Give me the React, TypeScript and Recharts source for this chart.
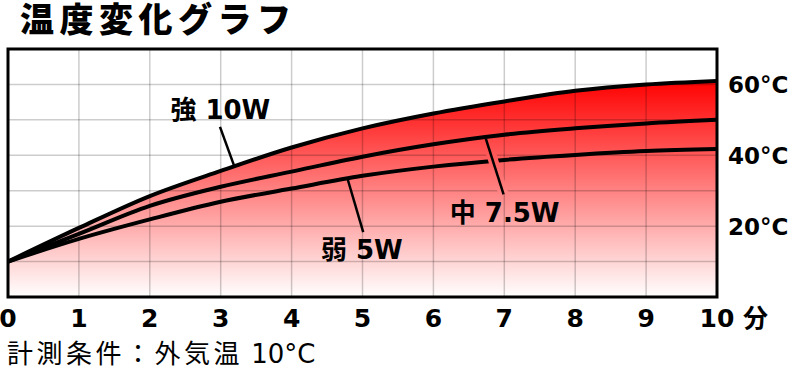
import React from 'react';
import { ComposedChart, Area, Line, XAxis, YAxis, ReferenceLine, ReferenceArea } from 'recharts';

const minutes = [0, 1, 2, 3, 4, 5, 6, 7, 8, 9, 10];
const strong10W = [10, 19.5, 28.5, 35.6, 42.2, 47.6, 51.8, 55.2, 58.2, 60.0, 61.0];
const medium75W = [10, 17.8, 25.7, 31.1, 35.4, 39.6, 43.1, 45.8, 47.6, 49.0, 50.0];
const weak5W = [10, 16.4, 21.9, 26.9, 30.6, 34.2, 36.8, 38.7, 40.1, 41.2, 41.8];
const yTicks = [20, 40, 60];
const gridX = [1, 2, 3, 4, 5, 6, 7, 8, 9];
const gridY = [10, 20, 30, 40, 50, 60];
const title = '温度変化グラフ';
const unitX = '分';

const data = minutes.map((m, i) => ({ m, strong: strong10W[i], medium: medium75W[i], weak: weak5W[i] }));

const FONT = '"DejaVu Sans", "Noto Sans CJK JP", sans-serif';
const CJK = '"Noto Sans CJK JP", sans-serif';

const XTick = (props: any) => {
  const { x, y, payload } = props;
  return (
    <g>
      <text x={x} y={y + 22} textAnchor="middle" fontFamily={FONT} fontWeight="bold" fontSize={25} fill="#000">
        {payload.value}
      </text>
      {payload.value === 10 ? (
        <text x={x + 26} y={y + 22} textAnchor="start" fontFamily={CJK} fontWeight="bold" fontSize={25} fill="#000">
          {unitX}
        </text>
      ) : null}
    </g>
  );
};

const YTick = (props: any) => {
  const { x, y, payload } = props;
  return (
    <text x={x + 3} y={y + 9} textAnchor="start" fontFamily={FONT} fontWeight="bold" fontSize={23} fill="#000">
      {`${payload.value}°C`}
    </text>
  );
};

const labelStyle = { fill: '#000', fontSize: 26, fontWeight: 'bold', fontFamily: FONT } as any;

export default function App() {
  return (
    <div style={{ position: 'absolute', left: 0, top: 0, width: 793, height: 378, background: '#fff', overflow: 'hidden' }}>
      <div style={{ position: 'absolute', left: 20, top: 0, fontFamily: CJK, fontWeight: 900, fontSize: 34, letterSpacing: 5.5, lineHeight: '36px', whiteSpace: 'nowrap' }}>
        {title}
      </div>
      <ComposedChart width={793} height={378} data={data} margin={{ top: 49, right: 0, bottom: 51, left: 8 }}>
        <defs>
          <linearGradient id="heat" gradientUnits="userSpaceOnUse" x1="0" y1="80" x2="0" y2="297">
            <stop offset="0" stopColor="#ff0000" />
            <stop offset="1" stopColor="#ffffff" />
          </linearGradient>
        </defs>
        <XAxis dataKey="m" type="number" domain={[0, 10]} ticks={minutes} axisLine={false} tickLine={false} height={30} tick={<XTick />} interval={0} />
        <YAxis orientation="right" type="number" domain={[0, 70]} ticks={yTicks} axisLine={false} tickLine={false} width={76} tick={<YTick />} />
        <Area dataKey="strong" type="monotone" stroke="none" fill="url(#heat)" fillOpacity={1} baseValue={0} isAnimationActive={false} dot={false} activeDot={false} />
        {gridX.map((v) => (
          <ReferenceLine key={`gx${v}`} x={v} stroke="#000" strokeOpacity={0.2} strokeWidth={1.5} />
        ))}
        {gridY.map((v) => (
          <ReferenceLine key={`gy${v}`} y={v} stroke="#000" strokeOpacity={0.2} strokeWidth={1.5} />
        ))}
        <Line dataKey="strong" type="monotone" stroke="#000" strokeWidth={4} dot={false} activeDot={false} isAnimationActive={false} />
        <Line dataKey="medium" type="monotone" stroke="#000" strokeWidth={4} dot={false} activeDot={false} isAnimationActive={false} />
        <Line dataKey="weak" type="monotone" stroke="#000" strokeWidth={4} dot={false} activeDot={false} isAnimationActive={false} />
        <ReferenceLine segment={[{ x: 2.99, y: 48.0 }, { x: 3.19, y: 37.0 }]} stroke="#000" strokeWidth={2.5} />
        <ReferenceLine segment={[{ x: 6.76, y: 44.0 }, { x: 6.99, y: 29.0 }]} stroke="url(#heat)" strokeWidth={10} />
        <ReferenceLine segment={[{ x: 6.74, y: 44.6 }, { x: 6.99, y: 29.0 }]} stroke="#000" strokeWidth={2.5} />
        <ReferenceLine segment={[{ x: 4.79, y: 33.3 }, { x: 5.01, y: 18.3 }]} stroke="#000" strokeWidth={2.5} />
        <ReferenceArea x1={2.19} x2={3.8} y1={48.0} y2={57.9} fill="#fff" fillOpacity={1} stroke="none" label={{ value: '強 10W', position: 'center', ...labelStyle }} />
        <ReferenceArea x1={6.13} x2={7.88} y1={18.9} y2={28.5} fill="url(#heat)" fillOpacity={1} stroke="none" label={{ value: '中 7.5W', position: 'center', ...labelStyle }} />
        <ReferenceArea x1={4.34} x2={5.64} y1={8.2} y2={18.3} fill="url(#heat)" fillOpacity={1} stroke="none" label={{ value: '弱 5W', position: 'center', ...labelStyle }} />
        <ReferenceArea x1={0} x2={10} y1={0} y2={70} fill="none" stroke="#000" strokeWidth={3} ifOverflow="visible" />
      </ComposedChart>
      <div style={{ position: 'absolute', left: 7, top: 338, fontFamily: CJK, fontSize: 26, letterSpacing: 3.5, lineHeight: '28px', whiteSpace: 'nowrap' }}>
        計測条件：外気温<span style={{ fontFamily: FONT, letterSpacing: 0 }}> 10°C</span>
      </div>
    </div>
  );
}
